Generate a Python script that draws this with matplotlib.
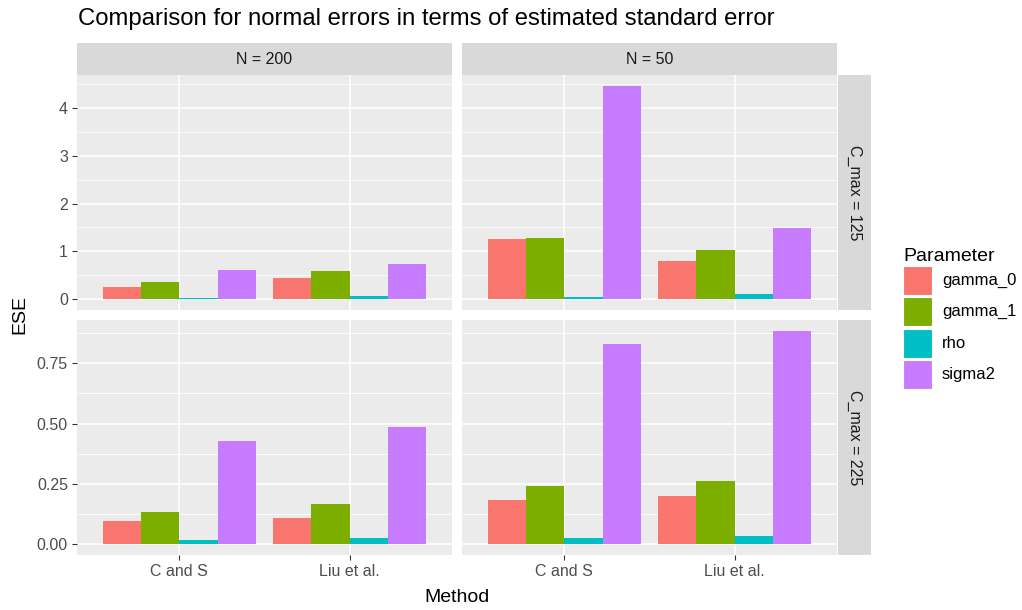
import matplotlib
matplotlib.use("Agg")
import matplotlib.pyplot as plt
from matplotlib.patches import Rectangle
import numpy as np

plt.rcParams['font.family'] = ['Liberation Sans', 'DejaVu Sans']

methods = ["C and S", "Liu et al."]
params = ["gamma_0", "gamma_1", "rho", "sigma2"]
colors = ["#F8766D", "#7CAE00", "#00BFC4", "#C77CFF"]
n_labels = ["N = 200", "N = 50"]
cmax_labels = ["C_max = 125", "C_max = 225"]

# values[param] = [C and S, Liu et al.]
cmax125_n200 = {"gamma_0": [0.26, 0.45], "gamma_1": [0.37, 0.59], "rho": [0.035, 0.06], "sigma2": [0.62, 0.74]}
cmax125_n50 = {"gamma_0": [1.26, 0.79], "gamma_1": [1.29, 1.04], "rho": [0.05, 0.12], "sigma2": [4.46, 1.48]}
cmax225_n200 = {"gamma_0": [0.095, 0.111], "gamma_1": [0.135, 0.168], "rho": [0.018, 0.028], "sigma2": [0.428, 0.484]}
cmax225_n50 = {"gamma_0": [0.184, 0.201], "gamma_1": [0.240, 0.261], "rho": [0.028, 0.034], "sigma2": [0.830, 0.885]}

row_ticks = [[0, 1, 2, 3, 4], [0.0, 0.25, 0.5, 0.75]]
row_ticklabels = [["0", "1", "2", "3", "4"], ["0.00", "0.25", "0.50", "0.75"]]
row_minor = [[0.5, 1.5, 2.5, 3.5, 4.5], [0.125, 0.375, 0.625, 0.875]]

data = [[cmax125_n200, cmax125_n50], [cmax225_n200, cmax225_n50]]

W, H = 1022, 610
fig = plt.figure(figsize=(W / 100, H / 100), dpi=100)

def px_axes(x0, y0, x1, y1):
    return fig.add_axes([x0 / W, 1 - y1 / H, (x1 - x0) / W, (y1 - y0) / H])

col_x = [(77, 452), (462, 837)]
row_y = [(75, 310), (320, 555)]

for r in range(2):
    ymax = max(max(v) for d in data[r] for v in d.values())
    lo, hi = -0.05 * ymax, ymax * 1.05
    for c in range(2):
        ax = px_axes(col_x[c][0], row_y[r][0], col_x[c][1], row_y[r][1])
        ax.set_facecolor("#EBEBEB")
        for s in ax.spines.values():
            s.set_visible(False)
        d = data[r][c]
        x = np.arange(1, len(methods) + 1)
        bw = 0.9 / len(params)
        for i, p in enumerate(params):
            ax.bar(x - 0.45 + bw * (i + 0.5), d[p], width=bw, color=colors[i], zorder=3)
        ax.set_xlim(0.4, len(methods) + 0.6)
        ax.set_ylim(lo, hi)
        ax.set_yticks(row_ticks[r])
        ax.set_yticks(row_minor[r], minor=True)
        ax.set_xticks(x)
        ax.grid(True, which="major", color="white", linewidth=1.1, zorder=1)
        ax.grid(True, which="minor", axis="y", color="white", linewidth=0.55, zorder=1)
        ax.tick_params(which="minor", length=0)
        ax.tick_params(which="major", length=3.5, width=0.8, color="#333333",
                       labelcolor="#4D4D4D", labelsize=11.5, pad=3)
        if c == 0:
            ax.set_yticklabels(row_ticklabels[r])
        else:
            ax.tick_params(axis="y", length=0, labelleft=False)
        if r == 1:
            ax.set_xticklabels(methods)
        else:
            ax.tick_params(axis="x", length=0, labelbottom=False)

# top strips
for c in range(2):
    sax = px_axes(col_x[c][0], 43, col_x[c][1], 75)
    sax.set_facecolor("#D9D9D9")
    sax.set_xticks([]); sax.set_yticks([])
    for s in sax.spines.values():
        s.set_visible(False)
    sax.text(0.5, 0.5, n_labels[c], ha="center", va="center", fontsize=11.5, color="#1A1A1A",
             transform=sax.transAxes)

# right strips
for r in range(2):
    sax = px_axes(838, row_y[r][0], 871, row_y[r][1])
    sax.set_facecolor("#D9D9D9")
    sax.set_xticks([]); sax.set_yticks([])
    for s in sax.spines.values():
        s.set_visible(False)
    sax.text(0.5, 0.5, cmax_labels[r], ha="center", va="center", fontsize=11.5, color="#1A1A1A",
             rotation=-90, transform=sax.transAxes)

fig.text(78 / W, 1 - 18.5 / H, "Comparison for normal errors in terms of estimated standard error",
         ha="left", va="center", fontsize=17.2, color="black")
fig.text((77 + 837) / 2 / W, 1 - 598 / H, "Method", ha="center", va="center", fontsize=14)
fig.text(20 / W, 1 - 315 / H, "ESE", ha="center", va="center", fontsize=14, rotation=90)

# legend drawn in a pixel-coordinate overlay axes
lax = px_axes(880, 230, 1022, 400)
lax.set_xlim(880, 1022)
lax.set_ylim(400, 230)
lax.axis("off")
lax.text(903, 261, "Parameter", ha="left", va="baseline", fontsize=14, color="black")
key_top0, pitch, ksize = 266, 31.3, 29
for i, (p, col) in enumerate(zip(params, colors)):
    top = key_top0 + i * pitch
    lax.add_patch(Rectangle((903, top), ksize, ksize, facecolor=col, edgecolor="white", linewidth=0.8))
    lax.text(942, top + ksize / 2, p, ha="left", va="center", fontsize=12, color="black")

fig.savefig("out.png", dpi=100)
